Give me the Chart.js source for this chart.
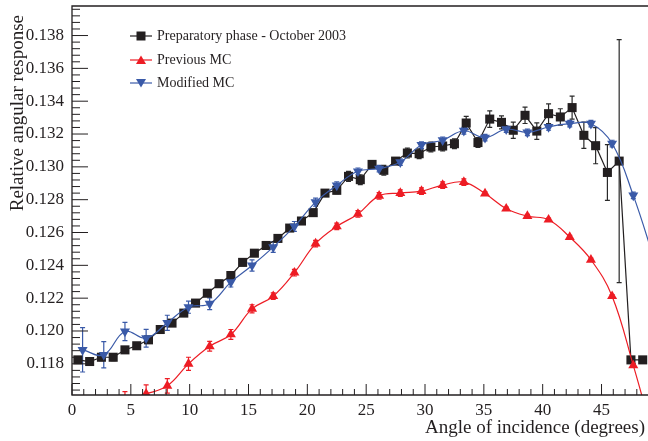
<!DOCTYPE html>
<html><head><meta charset="utf-8">
<script src="https://cdn.jsdelivr.net/npm/chart.js@4"></script>
<style>html,body{margin:0;padding:0;background:#fff}canvas{display:block}</style>
</head><body>
<canvas id="c" width="648" height="441" style="width:648px;height:441px"></canvas>
<script>
// ---- data ----
const dataAngles = [0.5,1.5,2.5,3.5,4.5,5.5,6.5,7.5,8.5,9.5,10.5,11.5,12.5,13.5,14.5,15.5,16.5,17.5,18.5,19.5,20.5,21.5,22.5,23.5,24.5,25.5,26.5,27.5,28.5,29.5,30.5,31.5,32.5,33.5,34.5,35.5,36.5,37.5,38.5,39.5,40.5,41.5,42.5,43.5,44.5,45.5,46.5,47.5,48.5];
const dataResponse = [0.11824,0.11814,0.1184,0.1184,0.11885,0.1191,0.11946,0.12009,0.12048,0.12109,0.1217,0.1223,0.12288,0.12338,0.12418,0.12474,0.12521,0.12564,0.12627,0.1267,0.12721,0.1284,0.12857,0.12942,0.12922,0.13015,0.12979,0.13035,0.13084,0.1308,0.13121,0.13127,0.13141,0.13267,0.13148,0.13291,0.13271,0.13223,0.13314,0.13218,0.13324,0.13304,0.13361,0.13192,0.13129,0.12966,0.13035,0.11824,0.11824];
const dataErr = [0.0002,0.0002,0.0002,0.0002,0.0002,0.0002,0.0002,0.0002,0.0002,0.0002,0.0002,0.0002,0.0002,0.0002,0.0002,0.0002,0.0002,0.0002,0.0002,0.0002,0.0002,0.0002,0.0002,0.0003,0.0003,0.0002,0.0003,0.0002,0.0003,0.0003,0.0003,0.0003,0.0003,0.0004,0.0003,0.0005,0.0004,0.0005,0.0005,0.0005,0.0006,0.0005,0.0007,0.0008,0.0011,0.0017,0.0074,0.0001,0.0001];

const mcAngles = [0.9,2.7,4.5,6.3,8.1,9.9,11.7,13.5,15.3,17.1,18.9,20.7,22.5,24.3,26.1,27.9,29.7,31.5,33.3,35.1,36.9,38.7,40.5,42.3,44.1,45.9,47.7,49.5];
const modifiedMC = [0.11885,0.11855,0.11997,0.11956,0.1205,0.12145,0.12166,0.12298,0.12399,0.12511,0.12637,0.12785,0.12887,0.12973,0.12989,0.13029,0.13133,0.13162,0.1322,0.13178,0.1323,0.1321,0.13243,0.13263,0.13263,0.13142,0.12826,0.1243];
const modifiedErr = [0.00135,0.0008,0.00056,0.00054,0.00046,0.00037,0.00036,0.0003,0.00034,0.00032,0.0003,0.00025,0.00022,0.0002,0.0002,0.0002,0.0002,0.0002,0.0002,0.0002,0.0002,0.0002,0.0002,0.0002,0.0002,0.0002,0.0002,0.0002];

const prevAngles = [4.5,6.3,8.1,9.9,11.7,13.5,15.3,17.1,18.9,20.7,22.5,24.3,26.1,27.9,29.7,31.5,33.3,35.1,36.9,38.7,40.5,42.3,44.1,45.9,47.7,49.5];
const previousMC = [0.1158,0.11617,0.11666,0.1180,0.11907,0.11979,0.12135,0.12212,0.12355,0.12532,0.12637,0.12713,0.12823,0.1284,0.12852,0.12889,0.12907,0.12837,0.12745,0.127,0.12678,0.12572,0.12434,0.12212,0.1179,0.1133];
const previousErr = [0.0005,0.00055,0.00044,0.0004,0.0003,0.0003,0.00025,0.0002,0.0002,0.0002,0.0002,0.0002,0.0002,0.0002,0.0002,0.0002,0.0002,0.0001,0.0001,0.0001,0.0001,0.0001,0.0001,0.0001,0.0001,0.0001];

const seriesNames = ['Preparatory phase - October 2003','Previous MC','Modified MC'];
const xTickLabels = ['0','5','10','15','20','25','30','35','40','45'];
const yTickLabels = ['0.118','0.120','0.122','0.124','0.126','0.128','0.130','0.132','0.134','0.136','0.138'];
const xTitle = 'Angle of incidence (degrees)';
const yTitle = 'Relative angular response';

// ---- styles ----
const BLACK = '#231f20', RED = '#ed1c24', BLUE = '#3a5aa8';
const FONT = "'Liberation Serif', 'Times New Roman', serif";

function pts(xs, ys){ return xs.map((x,i)=>({x:x, y:ys[i]})); }

const errorBars = {
  id:'errorBars',
  beforeDatasetsDraw(chart){
    const ctx = chart.ctx, a = chart.chartArea, ys = chart.scales.y;
    ctx.save();
    ctx.beginPath(); ctx.rect(a.left, a.top, a.right-a.left, a.bottom-a.top); ctx.clip();
    chart.data.datasets.forEach((ds, i)=>{
      const meta = chart.getDatasetMeta(i);
      ctx.strokeStyle = ds.errColor; ctx.lineWidth = 1.2;
      meta.data.forEach((el, j)=>{
        const v = ds.data[j].y, e = ds.errors[j];
        const y1 = ys.getPixelForValue(v+e), y2 = ys.getPixelForValue(v-e);
        ctx.beginPath();
        ctx.moveTo(el.x, y1); ctx.lineTo(el.x, y2);
        ctx.moveTo(el.x-2.5, y1); ctx.lineTo(el.x+2.5, y1);
        ctx.moveTo(el.x-2.5, y2); ctx.lineTo(el.x+2.5, y2);
        ctx.stroke();
      });
    });
    ctx.restore();
  }
};

const frameTicks = {
  id:'frameTicks',
  afterDraw(chart){
    const ctx = chart.ctx, a = chart.chartArea, xs = chart.scales.x, ys = chart.scales.y;
    ctx.save();
    ctx.strokeStyle = BLACK; ctx.lineWidth = 1.3;
    ctx.beginPath();
    ctx.moveTo(a.right+2, a.top); ctx.lineTo(a.left, a.top); ctx.lineTo(a.left, a.bottom); ctx.lineTo(a.right+2, a.bottom);
    ctx.stroke();
    ctx.lineWidth = 1;
    ctx.beginPath();
    for (let k = 0; k <= 55; k++){
      const v = k; if (v > xs.max) break;
      const px = xs.getPixelForValue(v);
      const len = (k % 5 === 0) ? 11 : 6;
      ctx.moveTo(px, a.bottom); ctx.lineTo(px, a.bottom - len);
    }
    for (let k = 0; k <= 70; k++){
      const v = 0.116 + k*0.0004;
      if (v < ys.min - 1e-9) continue; if (v > ys.max + 1e-9) break;
      const py = ys.getPixelForValue(v);
      const len = (k % 5 === 0) ? 16 : 8;
      ctx.moveTo(a.left, py); ctx.lineTo(a.left + len, py);
    }
    ctx.stroke();

    // axis titles
    ctx.fillStyle = BLACK;
    ctx.font = '19px ' + FONT;
    ctx.textAlign = 'right'; ctx.textBaseline = 'middle';
    ctx.fillText(xTitle, 645, 428);
    ctx.save();
    ctx.translate(18, 15); ctx.rotate(-Math.PI/2);
    ctx.textAlign = 'right'; ctx.textBaseline = 'middle';
    ctx.fillText(yTitle, 0, 0);
    ctx.restore();

    // legend
    const rows = [
      {t:seriesNames[0], c:BLACK, s:'rect'},
      {t:seriesNames[1], c:RED, s:'tri'},
      {t:seriesNames[2], c:BLUE, s:'dtri'}
    ];
    const ly = [36, 60, 83];
    rows.forEach((r, i)=>{
      const y = ly[i];
      ctx.strokeStyle = r.c; ctx.fillStyle = r.c; ctx.lineWidth = 1.2;
      ctx.beginPath(); ctx.moveTo(130, y); ctx.lineTo(152, y); ctx.stroke();
      ctx.beginPath();
      if (r.s === 'rect') ctx.rect(136.5, y-4.5, 9, 9);
      else if (r.s === 'tri'){ ctx.moveTo(141, y-4.5); ctx.lineTo(146, y+4); ctx.lineTo(136, y+4); ctx.closePath(); }
      else { ctx.moveTo(141, y+4.5); ctx.lineTo(146, y-4); ctx.lineTo(136, y-4); ctx.closePath(); }
      ctx.fill();
      ctx.fillStyle = BLACK; ctx.font = '14px ' + FONT;
      ctx.textAlign = 'left'; ctx.textBaseline = 'middle';
      ctx.fillText(r.t, 157, y);
    });
    ctx.restore();
  }
};

Chart.defaults.font.family = FONT;
Chart.defaults.color = BLACK;

function zeroPad(s){ s.paddingTop = 0; s.paddingBottom = 0; s.paddingLeft = 0; s.paddingRight = 0; }

new Chart(document.getElementById('c'), {
  type:'line',
  data:{
    datasets:[
      {label:seriesNames[2], data:pts(mcAngles, modifiedMC), errors:modifiedErr, errColor:BLUE,
       borderColor:BLUE, backgroundColor:BLUE, borderWidth:1.2, pointStyle:'triangle', rotation:180,
       pointRadius:5.8, pointBorderWidth:0, tension:0.4, order:0},
      {label:seriesNames[1], data:pts(prevAngles, previousMC), errors:previousErr, errColor:RED,
       borderColor:RED, backgroundColor:RED, borderWidth:1.2, pointStyle:'triangle',
       pointRadius:5.8, pointBorderWidth:0, tension:0.4, order:1},
      {label:seriesNames[0], data:pts(dataAngles, dataResponse), errors:dataErr, errColor:'#2a2a2a',
       borderColor:BLACK, backgroundColor:BLACK, borderWidth:1.2, pointStyle:'rect',
       pointRadius:6.4, pointBorderWidth:0, tension:0, order:2}
    ]
  },
  options:{
    responsive:false, animation:false, devicePixelRatio:1,
    layout:{autoPadding:false, padding:{top:6, right:0, bottom:0, left:0}},
    elements:{line:{capBezierPoints:false}},
    plugins:{legend:{display:false}, tooltip:{enabled:false}},
    scales:{
      x:{type:'linear', min:0, max:48.95,
         grid:{display:false, drawTicks:false}, border:{display:false},
         afterBuildTicks(s){ s.ticks = xTickLabels.map(l=>({value:parseFloat(l)})); },
         ticks:{autoSkip:false, maxRotation:0, padding:5, font:{size:17},
                callback:(v,i)=>xTickLabels[i]},
         afterFit(s){ s.height = 46; zeroPad(s); }
      },
      y:{type:'linear', min:0.1161, max:0.1398,
         grid:{display:false, drawTicks:false}, border:{display:false},
         afterBuildTicks(s){ s.ticks = yTickLabels.map(l=>({value:parseFloat(l)})); },
         ticks:{autoSkip:false, padding:8, font:{size:17},
                callback:(v,i)=>yTickLabels[i]},
         afterFit(s){ s.width = 72; zeroPad(s); }
      }
    }
  },
  plugins:[errorBars, frameTicks]
});
</script>
</body></html>
